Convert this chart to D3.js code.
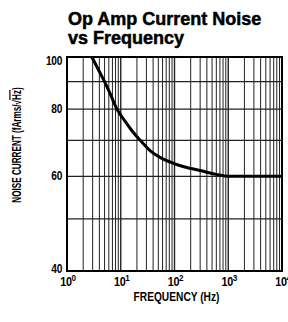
<!DOCTYPE html>
<html>
<head>
<meta charset="utf-8">
<script src="https://cdn.jsdelivr.net/npm/d3@7"></script>
<style>
  body { margin: 0; background: #fff; }
  text { fill: #000; }
</style>
</head>
<body>
<div id="chart"></div>
<script>
// data
const freq = [2.9, 4, 5, 6.5, 8.5, 12, 16, 23, 35, 55, 93, 150, 300, 600, 1000, 2000, 5000, 10000];
const noise = [100, 94, 90, 85, 80, 76, 73, 70, 67, 65, 63.5, 62.5, 61.5, 60.5, 60, 60, 60, 60];
const yTicks = [40, 60, 80, 100];
const yGrid = [50, 60, 70, 80, 90];
const decades = [0, 1, 2, 3, 4];
const titleLines = ["Op Amp Current Noise", "vs Frequency"];

const width = 288, height = 322;
const margin = { top: 57, right: 6, bottom: 51, left: 67 };

const svg = d3.select("#chart").append("svg")
    .attr("width", width)
    .attr("height", height);

const xScale = d3.scaleLog().domain([1, 1e4]).range([margin.left, width - margin.right]);
const yScale = d3.scaleLog().domain([40, 100]).range([height - margin.bottom, margin.top]);

// vertical grid: 1..9 per decade
const xGrid = [];
decades.slice(0, -1).forEach(k => {
    for (let m = 1; m <= 9; m++) xGrid.push(m * Math.pow(10, k));
});
xGrid.push(1e4);

svg.append("g").selectAll("line")
    .data(xGrid)
    .enter().append("line")
    .attr("x1", d => xScale(d)).attr("x2", d => xScale(d))
    .attr("y1", yScale(40)).attr("y2", yScale(100))
    .attr("stroke", "#222")
    .attr("stroke-width", d => (Math.log10(d) % 1 === 0 ? 1.4 : 1));

svg.append("g").selectAll("line")
    .data(yGrid)
    .enter().append("line")
    .attr("x1", xScale(1)).attr("x2", xScale(1e4))
    .attr("y1", d => yScale(d)).attr("y2", d => yScale(d))
    .attr("stroke", "#222")
    .attr("stroke-width", 1.2);

// frame
svg.append("rect")
    .attr("x", xScale(1)).attr("y", yScale(100))
    .attr("width", xScale(1e4) - xScale(1))
    .attr("height", yScale(40) - yScale(100))
    .attr("fill", "none")
    .attr("stroke", "#000")
    .attr("stroke-width", 2);

// curve
const line = d3.line()
    .x((d, i) => xScale(freq[i]))
    .y(d => yScale(d))
    .curve(d3.curveMonotoneX);

svg.append("path")
    .datum(noise)
    .attr("fill", "none")
    .attr("stroke", "#000")
    .attr("stroke-width", 3)
    .attr("d", line);

const tickFont = "'Liberation Sans', Arial, sans-serif";

// y tick labels (end ones pulled inside like the original)
svg.append("g").selectAll("text")
    .data(yTicks)
    .enter().append("text")
    .attr("transform", d => {
        const y = Math.max(margin.top + 8, Math.min(height - margin.bottom + 2, yScale(d) + 4));
        return `translate(${margin.left - 5},${y}) scale(0.85,1)`;
    })
    .attr("text-anchor", "end")
    .attr("font-family", tickFont)
    .attr("font-weight", "bold")
    .attr("font-size", 12)
    .attr("letter-spacing", -0.4)
    .text(d => d);

// x tick labels 10^k
const xl = svg.append("g").selectAll("text")
    .data(decades)
    .enter().append("text")
    .attr("transform", d => `translate(${xScale(Math.pow(10, d)) + 1},286) scale(0.9,1)`)
    .attr("text-anchor", "middle")
    .attr("font-family", tickFont)
    .attr("font-weight", "bold")
    .attr("font-size", 12)
    .attr("letter-spacing", -0.4);
xl.append("tspan").text("10");
xl.append("tspan").attr("dy", -5).attr("font-size", 9).text(d => d);

// axis titles
svg.append("text")
    .attr("transform", `translate(${xScale(100) + 2},301) scale(0.85,1)`)
    .attr("text-anchor", "middle")
    .attr("font-family", tickFont)
    .attr("font-weight", "bold")
    .attr("font-size", 12)
    .text("FREQUENCY (Hz)");

const yt = svg.append("text")
    .attr("transform", "translate(21,145) rotate(-90) scale(0.68,1)")
    .attr("text-anchor", "middle")
    .attr("font-family", tickFont)
    .attr("font-weight", "bold")
    .attr("font-size", 12);
yt.append("tspan").text("NOISE CURRENT (fArms/\u221A");
yt.append("tspan").attr("text-decoration", "overline").text("Hz");
yt.append("tspan").text(")");

// title
svg.append("g").selectAll("text")
    .data(titleLines)
    .enter().append("text")
    .attr("x", 68)
    .attr("y", (d, i) => 25 + i * 18.5)
    .attr("font-family", "'Liberation Sans', Arial, sans-serif")
    .attr("font-weight", "bold")
    .attr("font-size", 18)
    .attr("stroke", "#000")
    .attr("stroke-width", 0.5)
    .text(d => d);
</script>
</body>
</html>
